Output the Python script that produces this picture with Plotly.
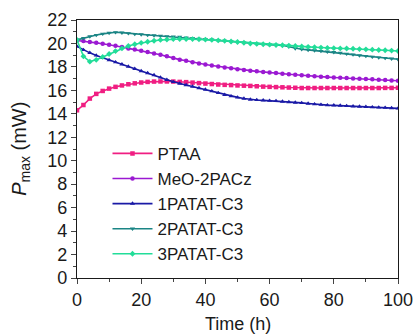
import plotly.graph_objects as go

time_h = list(range(0, 101, 2))

ptaa = [14.3, 14.75, 15.3, 15.7, 15.95, 16.15, 16.3, 16.42, 16.52, 16.6,
        16.67, 16.72, 16.75, 16.76, 16.76, 16.75, 16.72, 16.7, 16.66, 16.62,
        16.58, 16.54, 16.5, 16.47, 16.45, 16.42, 16.4, 16.38, 16.35, 16.32,
        16.3, 16.28, 16.26, 16.24, 16.22, 16.2, 16.2, 16.2, 16.2, 16.2,
        16.2, 16.2, 16.2, 16.2, 16.2, 16.2, 16.2, 16.2, 16.21, 16.21, 16.22]

meo_2pacz = [20.25, 20.2, 20.12, 20.05, 19.98, 19.9, 19.8, 19.7, 19.58, 19.48,
             19.38, 19.27, 19.15, 19.03, 18.9, 18.75, 18.62, 18.52, 18.4, 18.3,
             18.2, 18.12, 18.04, 17.95, 17.88, 17.8, 17.74, 17.68, 17.62, 17.56,
             17.52, 17.47, 17.42, 17.38, 17.33, 17.28, 17.24, 17.2, 17.16, 17.13,
             17.1, 17.07, 17.05, 17.02, 17.0, 16.97, 16.94, 16.91, 16.88, 16.85, 16.82]

patat1 = [19.75, 19.45, 19.2, 18.98, 18.78, 18.58, 18.4, 18.22, 18.03, 17.84,
          17.65, 17.48, 17.3, 17.1, 16.9, 16.72, 16.58, 16.45, 16.32, 16.2,
          16.07, 15.93, 15.78, 15.62, 15.5, 15.4, 15.3, 15.22, 15.18, 15.15,
          15.12, 15.1, 15.05, 15.0, 14.96, 14.93, 14.88, 14.82, 14.78, 14.74,
          14.72, 14.7, 14.67, 14.64, 14.62, 14.6, 14.57, 14.54, 14.52, 14.49, 14.46]

patat2 = [20.3, 20.45, 20.6, 20.72, 20.82, 20.9, 20.95, 20.92, 20.86, 20.8,
          20.77, 20.72, 20.68, 20.64, 20.6, 20.58, 20.55, 20.5, 20.45, 20.4,
          20.36, 20.32, 20.27, 20.22, 20.17, 20.12, 20.06, 20.0, 19.96, 19.93,
          19.9, 19.87, 19.84, 19.72, 19.58, 19.5, 19.45, 19.4, 19.35, 19.3,
          19.25, 19.2, 19.12, 19.05, 18.98, 18.92, 18.86, 18.8, 18.75, 18.7, 18.65]

patat3 = [20.3, 18.9, 18.45, 18.6, 18.85, 19.1, 19.35, 19.58, 19.78, 19.93,
          20.05, 20.15, 20.23, 20.3, 20.34, 20.37, 20.38, 20.38, 20.37, 20.36,
          20.33, 20.3, 20.26, 20.22, 20.17, 20.12, 20.06, 20.0, 19.96, 19.93,
          19.9, 19.87, 19.85, 19.82, 19.78, 19.74, 19.71, 19.68, 19.65, 19.62,
          19.6, 19.58, 19.57, 19.55, 19.52, 19.5, 19.47, 19.44, 19.42, 19.39, 19.36]

series_names = ["PTAA", "MeO-2PACz", "1PATAT-C3", "2PATAT-C3", "3PATAT-C3"]
series_values = [ptaa, meo_2pacz, patat1, patat2, patat3]
colors = ["#F01E82", "#9B19D2", "#1A1AA6", "#1B8585", "#22DD99"]
symbols = ["square", "circle", "triangle-up", "triangle-down", "diamond"]

x_ticks = [0, 20, 40, 60, 80, 100]
y_ticks = list(range(0, 23, 2))

fig = go.Figure()
for name, vals, col, sym in zip(series_names, series_values, colors, symbols):
    fig.add_trace(go.Scatter(
        x=time_h, y=vals, name=name, mode="lines+markers",
        line=dict(color=col, width=1.6),
        marker=dict(symbol=sym, size=4.5, color=col),
    ))

font_family = "Liberation Sans, Arial, sans-serif"
fig.update_layout(
    width=414, height=335,
    margin=dict(l=77, r=16, t=20, b=57),
    paper_bgcolor="white", plot_bgcolor="white",
    font=dict(family=font_family, size=18, color="#1a1a1a"),
    showlegend=True,
    legend=dict(x=0.095, y=0.551, xanchor="left", yanchor="top",
                bgcolor="rgba(0,0,0,0)", borderwidth=0,
                font=dict(size=17), tracegroupgap=0, itemwidth=40),
    annotations=[
        dict(text="Time (h)", xref="paper", yref="paper", x=0.5, y=-0.177,
             xanchor="center", yanchor="middle", showarrow=False,
             font=dict(size=18)),
        dict(text="<i>P</i><sub>max</sub> (mW)", xref="paper", yref="paper",
             x=-0.178, y=0.5, xanchor="center", yanchor="middle",
             textangle=-90, showarrow=False, font=dict(size=20)),
    ],
)
fig.update_xaxes(
    range=[0, 100], tickvals=x_ticks, ticks="outside", ticklen=5, tickwidth=1.2,
    showline=True, linecolor="#1a1a1a", linewidth=1.3, mirror=True,
    showgrid=False, zeroline=False, automargin=False,
    minor=dict(dtick=10, ticks="outside", ticklen=3, tickwidth=1.2, showgrid=False),
    tickfont=dict(size=18),
)
fig.update_yaxes(
    range=[0, 22], tickvals=y_ticks, ticks="outside", ticklen=5, tickwidth=1.2,
    showline=True, linecolor="#1a1a1a", linewidth=1.3, mirror=True,
    showgrid=False, zeroline=False, automargin=False,
    minor=dict(dtick=1, ticks="outside", ticklen=3, tickwidth=1.2, showgrid=False),
    tickfont=dict(size=18),
)

fig.write_html("out.html", config={"displayModeBar": False},
               post_script="document.body.style.margin='0';")
